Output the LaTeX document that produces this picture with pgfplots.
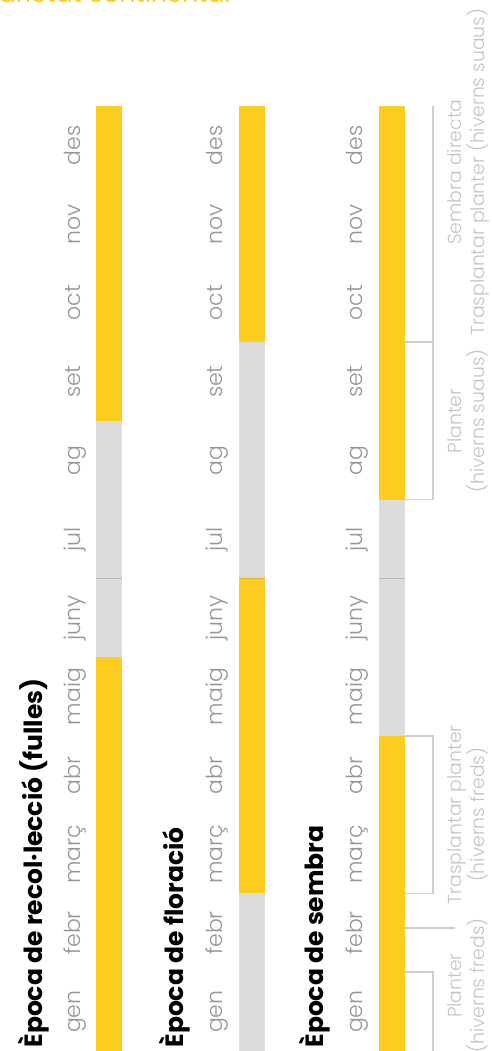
\documentclass[border=0pt]{standalone}
\usepackage{pgfplots}
\pgfplotsset{compat=1.18}
\usepackage{fontspec}
\setmainfont{Poppins}
\newfontfamily\lightfont{Poppins Light}
\definecolor{ylw}{RGB}{253,205,34}
\definecolor{ylwd}{RGB}{225,180,20}
\definecolor{gry}{RGB}{220,220,220}
\definecolor{midl}{RGB}{185,185,185}
\definecolor{mon}{RGB}{150,150,150}
\definecolor{lbl}{RGB}{196,196,196}
\definecolor{brk}{RGB}{206,206,206}
\tikzset{
  mlab/.style={rotate=90, anchor=base, inner sep=0pt, text=mon, font=\lightfont\fontsize{11}{13}\selectfont},
  ttl/.style={rotate=90, anchor=base west, inner sep=0pt, text=black, font=\bfseries\fontsize{12.5}{15}\selectfont},
  blab/.style={rotate=90, anchor=base, inner sep=0pt, text=lbl, font=\lightfont\fontsize{9.4}{12}\selectfont},
}
\newcommand\monthrow[1]{%
  \node[mlab] at (axis cs:#1,0.5) {gen};
  \node[mlab] at (axis cs:#1,1.5) {febr};
  \node[mlab] at (axis cs:#1,2.5) {març};
  \node[mlab] at (axis cs:#1,3.5) {abr};
  \node[mlab] at (axis cs:#1,4.5) {maig};
  \node[mlab] at (axis cs:#1,5.5) {juny};
  \node[mlab] at (axis cs:#1,6.5) {jul};
  \node[mlab] at (axis cs:#1,7.5) {ag};
  \node[mlab] at (axis cs:#1,8.5) {set};
  \node[mlab] at (axis cs:#1,9.5) {oct};
  \node[mlab] at (axis cs:#1,10.5) {nov};
  \node[mlab] at (axis cs:#1,11.5) {des};
}
\begin{document}
\begin{tikzpicture}
\begin{axis}[name=ax, hide axis, scale only axis, width=246pt, height=525.5pt,
  xmin=0, xmax=492, ymin=0, ymax=13.346, clip=false]
% --- Època de recol·lecció (fulles): x 96-122
\addplot[fill=ylw, draw=none] coordinates {(96,0) (122,0) (122,5) (96,5)} -- cycle;
\addplot[fill=gry, draw=none] coordinates {(96,5) (122,5) (122,8) (96,8)} -- cycle;
\addplot[fill=ylw, draw=none] coordinates {(96,8) (122,8) (122,12) (96,12)} -- cycle;
\addplot[draw=midl, line width=0.5pt] coordinates {(96,6) (122,6)};
% --- Època de floració: x 239-265
\addplot[fill=gry, draw=none] coordinates {(239,0) (265,0) (265,2) (239,2)} -- cycle;
\addplot[fill=ylw, draw=none] coordinates {(239,2) (265,2) (265,6) (239,6)} -- cycle;
\addplot[fill=gry, draw=none] coordinates {(239,6) (265,6) (265,9) (239,9)} -- cycle;
\addplot[fill=ylw, draw=none] coordinates {(239,9) (265,9) (265,12) (239,12)} -- cycle;
\addplot[draw=ylwd, line width=0.5pt] coordinates {(239,6) (265,6)};
% --- Època de sembra: x 379-405
\addplot[fill=ylw, draw=none] coordinates {(379,0) (405,0) (405,4) (379,4)} -- cycle;
\addplot[fill=gry, draw=none] coordinates {(379,4) (405,4) (405,7) (379,7)} -- cycle;
\addplot[fill=ylw, draw=none] coordinates {(379,7) (405,7) (405,12) (379,12)} -- cycle;
\addplot[draw=midl, line width=0.5pt] coordinates {(379,6) (405,6)};
% --- brackets
\addplot[draw=brk, line width=0.75pt] coordinates {(405,1) (433,1) (433,-0.2)};
\addplot[draw=brk, line width=0.75pt] coordinates {(405,1.56) (455,1.56)};
\addplot[draw=brk, line width=0.75pt] coordinates {(405,2) (433,2) (433,4) (405,4)};
\addplot[draw=brk, line width=0.75pt] coordinates {(405,7) (433,7) (433,9) (405,9)};
\addplot[draw=brk, line width=0.75pt] coordinates {(433,9) (433,12)};
% --- month rows
\monthrow{80}
\monthrow{222}
\monthrow{362}
% --- titles
\node[ttl] at (axis cs:42,0.04) {Època de recol·lecció (fulles)};
\node[ttl] at (axis cs:183,0.04) {Època de floració};
\node[ttl] at (axis cs:323,0.04) {Època de sembra};
% --- bracket labels
\node[blab] at (axis cs:461,0.83) {Planter};
\node[blab] at (axis cs:484,0.83) {(hiverns freds)};
\node[blab] at (axis cs:461,3.0) {Trasplantar planter};
\node[blab] at (axis cs:484,3.0) {(hiverns freds)};
\node[blab] at (axis cs:461,8.0) {Planter};
\node[blab] at (axis cs:484,8.0) {(hiverns suaus)};
\node[blab] at (axis cs:461,11.16) {Sembra directa};
\node[blab] at (axis cs:484,11.16) {Trasplantar planter (hiverns suaus)};
% --- cut-off heading at top
\node[anchor=base east, inner sep=0pt, text=ylw, font=\fontsize{12.5}{15}\selectfont] at (axis cs:231,13.312) {varietat continental};
\end{axis}
\pgfresetboundingbox
\path[use as bounding box] (ax.south west) rectangle (ax.north east);
\end{tikzpicture}
\end{document}
